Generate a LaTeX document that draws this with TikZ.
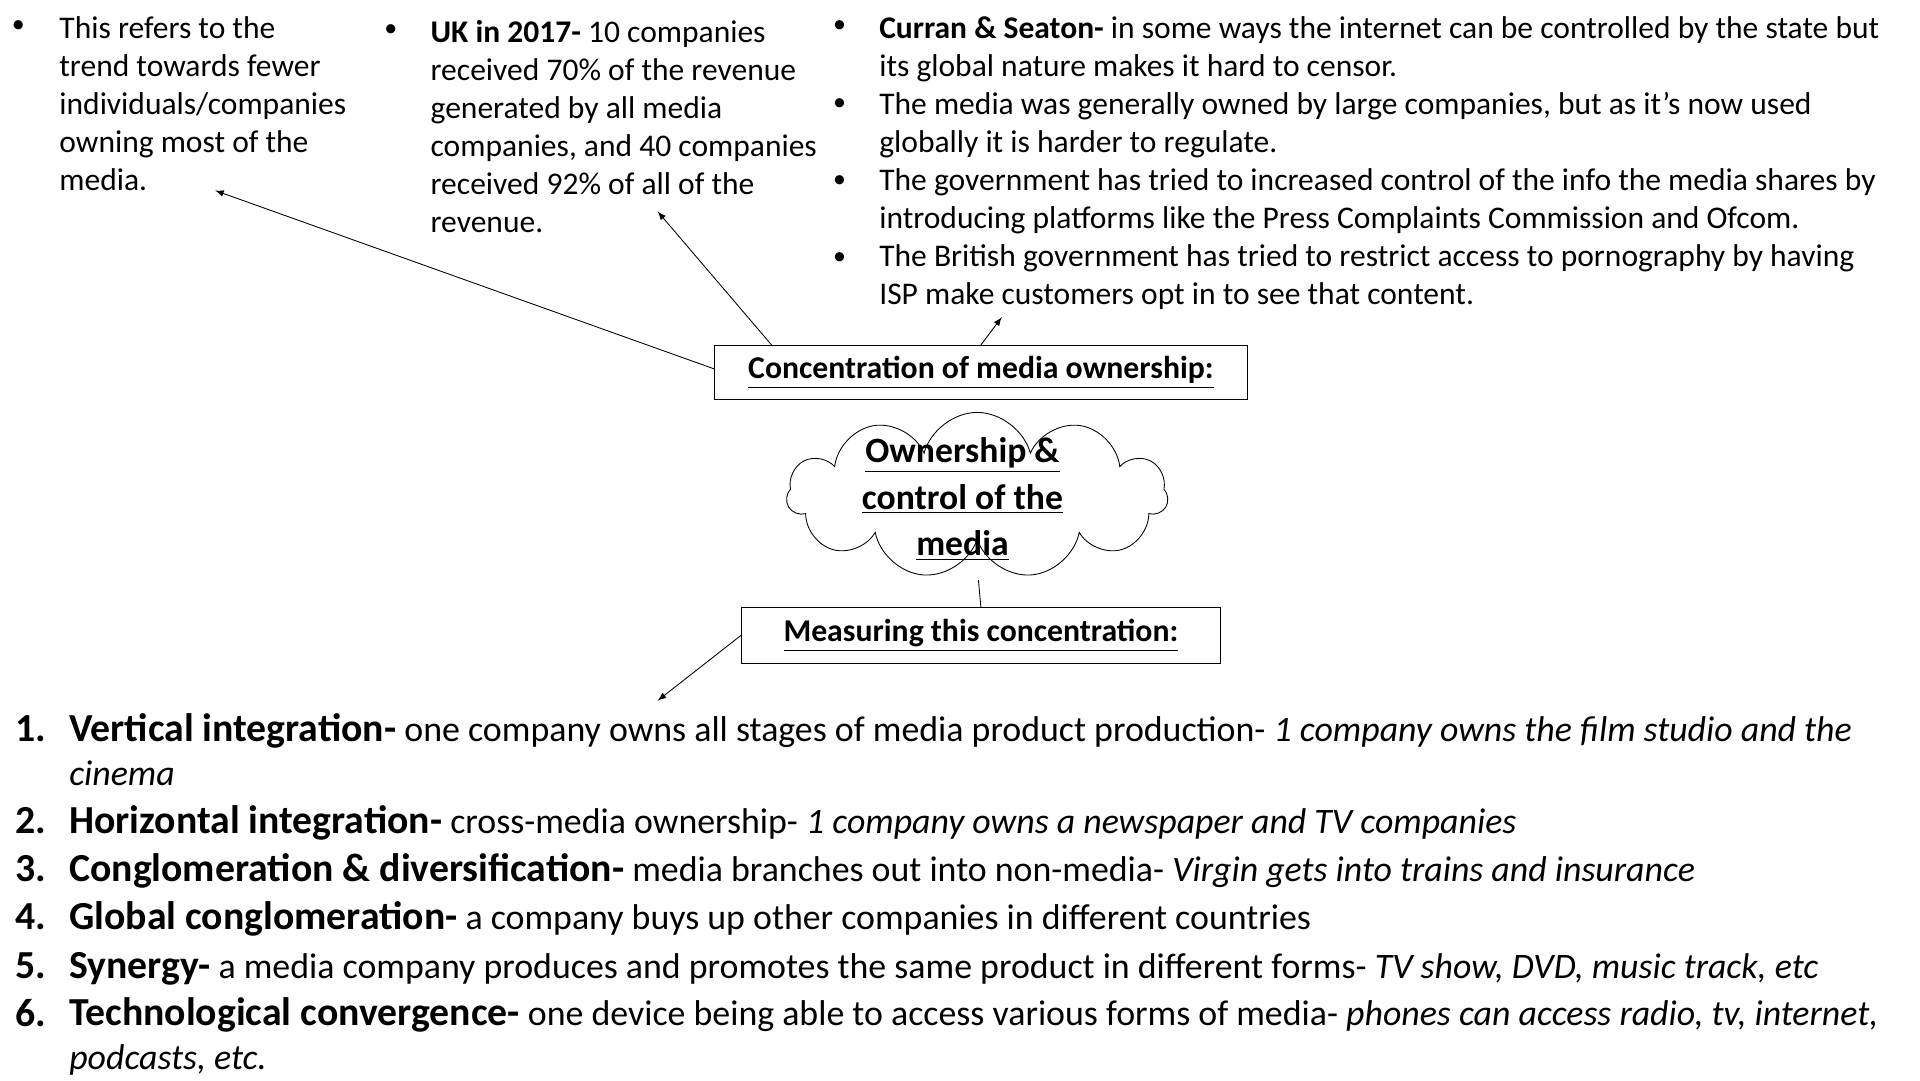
\documentclass[tikz,border=0pt]{standalone}
\usepackage{fontspec}
\setmainfont{Carlito}
\usetikzlibrary{shapes.symbols}
\newcommand{\ul}[1]{\underline{#1}}

\begin{document}
\begin{tikzpicture}[x=0.02cm, y=-0.02cm,
    toptext/.style = {anchor = base west, align = left, inner sep = 0pt,
                      font = \fontsize{14.6}{17.6}\selectfont},
    dot/.style = {inner sep = 0pt, font = \fontsize{12}{14}\selectfont},
    headbox/.style = {draw, minimum width = 8.68cm, minimum height = 0.88cm,
                      font = \fontsize{14.7}{17}\selectfont\bfseries},
    itemtext/.style = {anchor = base west, inner sep = 0pt, align = left,
                       font = \fontsize{16.6}{20.4}\selectfont},
    itemnum/.style = {anchor = base west, inner sep = 0pt,
                      font = \fontsize{18.4}{20}\selectfont\bfseries},
    pointer/.style = {-latex, thin}]
        \useasboundingbox (0,0) rectangle (1562,879);

        % Top notes
        \node [dot] (d1) at (15,22) {\textbullet};
        \node [toptext] (trend) at (48,155) {This refers to the\\trend towards fewer\\individuals/companies\\owning most of the\\media.};
        \node [dot] (d2) at (318,25) {\textbullet};
        \node [toptext] (uk) at (350,189) {\textbf{UK in 2017-} 10 companies\\received 70\% of the revenue\\generated by all media\\companies, and 40 companies\\received 92\% of all of the\\revenue.};
        \node [dot] (d3) at (683,22) {\textbullet};
        \node [dot] (d4) at (683,85) {\textbullet};
        \node [dot] (d5) at (683,148) {\textbullet};
        \node [dot] (d6) at (683,210) {\textbullet};
        \node [toptext] (curran) at (715,248) {\textbf{Curran \& Seaton-} in some ways the internet can be controlled by the state but\\its global nature makes it hard to censor.\\The media was generally owned by large companies, but as it's now used\\globally it is harder to regulate.\\The government has tried to increased control of the info the media shares by\\introducing platforms like the Press Complaints Commission and Ofcom.\\The British government has tried to restrict access to pornography by having\\ISP make customers opt in to see that content.};

        % Centre
        \node [headbox] (conc) at (798,303) {\ul{Concentration of media ownership:}};
        \node [cloud, draw, cloud puffs = 11, aspect = 2.4, inner sep = 0pt,
               minimum width = 6.2cm, minimum height = 2.7cm] (cloud) at (795,403) {};
        \node [align = center, font = \fontsize{16.5}{21.5}\selectfont\bfseries] (title) at (783,406)
               {\ul{Ownership \&}\\\ul{control of the}\\\ul{media}};
        \node [headbox, minimum width = 7.8cm, minimum height = 0.9cm] (meas) at (798,517) {\ul{Measuring this concentration:}};
        \coordinate (cb) at (796,472);
        \coordinate (e1) at (175,155);
        \coordinate (e2) at (535,172);
        \coordinate (e3) at (815,258);
        \coordinate (e4) at (535,570);

        % Lines
        \draw [pointer] (conc.west) ++(0,-3) -- (e1);
        \draw [pointer] (conc.north west) ++(47,0) -- (e2);
        \draw [pointer] (conc.north) -- (e3);
        \draw (cb) -- (meas.north);
        \draw [pointer] (meas.west) -- (e4);

        % Bottom list
        \node [itemnum] (n1) at (12,603) {1.};
        \node [itemtext] (i1) at (56,639) {{\fontsize{18.4}{20}\selectfont\bfseries Vertical integration-} one company owns all stages of media product production- \textit{1 company owns the film studio and the}\\\textit{cinema}};
        \node [itemnum] (n2) at (12,678) {2.};
        \node [itemtext] (i2) at (56,678) {{\fontsize{18.4}{20}\selectfont\bfseries Horizontal integration-} cross-media ownership- \textit{1 company owns a newspaper and TV companies}};
        \node [itemnum] (n3) at (12,717) {3.};
        \node [itemtext] (i3) at (56,717) {{\fontsize{18.4}{20}\selectfont\bfseries Conglomeration \& diversification-} media branches out into non-media- \textit{Virgin gets into trains and insurance}};
        \node [itemnum] (n4) at (12,756) {4.};
        \node [itemtext] (i4) at (56,756) {{\fontsize{18.4}{20}\selectfont\bfseries Global conglomeration-} a company buys up other companies in different countries};
        \node [itemnum] (n5) at (12,796) {5.};
        \node [itemtext] (i5) at (56,796) {{\fontsize{18.4}{20}\selectfont\bfseries Synergy-} a media company produces and promotes the same product in different forms- \textit{TV show, DVD, music track, etc}};
        \node [itemnum] (n6) at (12,835) {6.};
        \node [itemtext] (i6) at (56,870) {{\fontsize{18.4}{20}\selectfont\bfseries Technological convergence-} one device being able to access various forms of media- \textit{phones can access radio, tv, internet,}\\\textit{podcasts, etc.}};

    \end{tikzpicture}
\end{document}
